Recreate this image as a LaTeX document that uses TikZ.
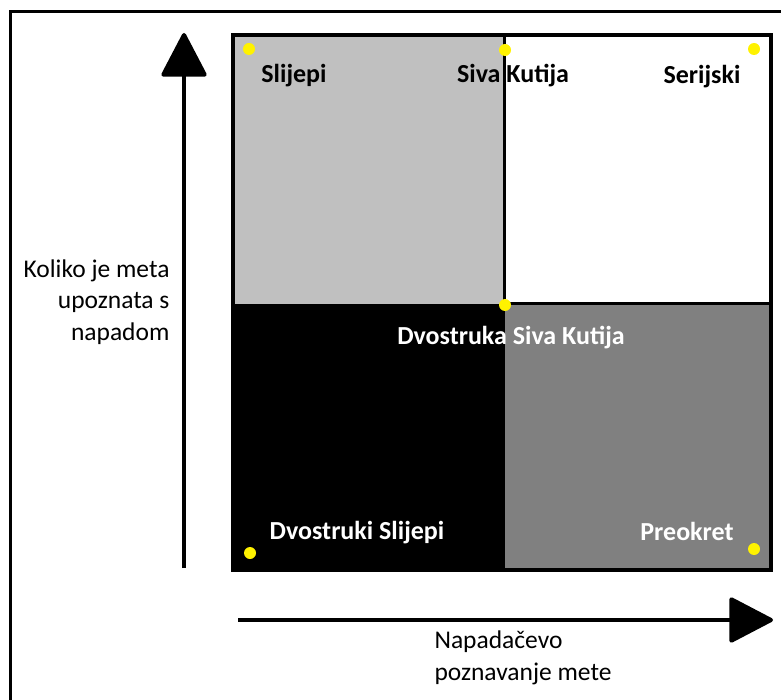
\documentclass[tikz,border=0pt]{standalone}
\usepackage{fontspec}
\setmainfont{Carlito}
\usetikzlibrary{arrows.meta}

\definecolor{lightq}{HTML}{C0C0C0}
\definecolor{darkq}{HTML}{808080}
\definecolor{dotyellow}{HTML}{FFF200}

\begin{document}
\begin{tikzpicture}[x=1pt,y=-1pt,
    dot/.style={circle, fill=dotyellow, inner sep=0pt, minimum size=12pt},
    lab/.style={font=\fontsize{26}{30}\selectfont\bfseries},
    axis/.style={line width=4pt, -{Triangle[width=47pt,length=46pt,round]}},
    axlabel/.style={font=\fontsize{25.5}{31.5}\selectfont}]
\useasboundingbox (0,0) rectangle (781,700);

% frame
\draw[line width=3pt] (10,700) -- (10,12) -- (781,12);

% quadrants
\fill[lightq] (233,35) rectangle (504,304);
\fill[black] (233,304) rectangle (505,570);
\fill[darkq] (505,304) rectangle (771,570);
\draw[line width=3pt] (504,35) -- (504,304) -- (771,304);
\draw[line width=3.5pt] (233,35) rectangle (771,570);

% corner dots
\node[dot] (d1) at (249,49) {};
\node[dot] (d2) at (505,50) {};
\node[dot] (d3) at (754,49) {};
\node[dot] (d4) at (505,305) {};
\node[dot] (d5) at (250,553) {};
\node[dot] (d6) at (754,549) {};

% names
\node[lab] (blind) at (294,76) {Slijepi};
\node[lab] (graybox) at (513,76) {Siva Kutija};
\node[lab] (serial) at (702,77) {Serijski};
\node[lab, text=white] (dblgray) at (511,338) {Dvostruka Siva Kutija};
\node[lab, text=white] (dblblind) at (357,533) {Dvostruki Slijepi};
\node[lab, text=white] (turn) at (687,531) {Preokret};

% axes
\coordinate (ylow) at (184,568);
\coordinate (yhigh) at (184,33);
\coordinate (xlow) at (238,620);
\coordinate (xhigh) at (773,620);
\draw[axis] (ylow) -- (yhigh);
\draw[axis] (xlow) -- (xhigh);

\node[axlabel, align=right, anchor=east] (ytext) at (173,302) {Koliko je meta\\upoznata s\\napadom};
\node[axlabel, align=left, anchor=west] (xtext) at (431,658) {Napadačevo\\poznavanje mete};
\end{tikzpicture}
\end{document}
